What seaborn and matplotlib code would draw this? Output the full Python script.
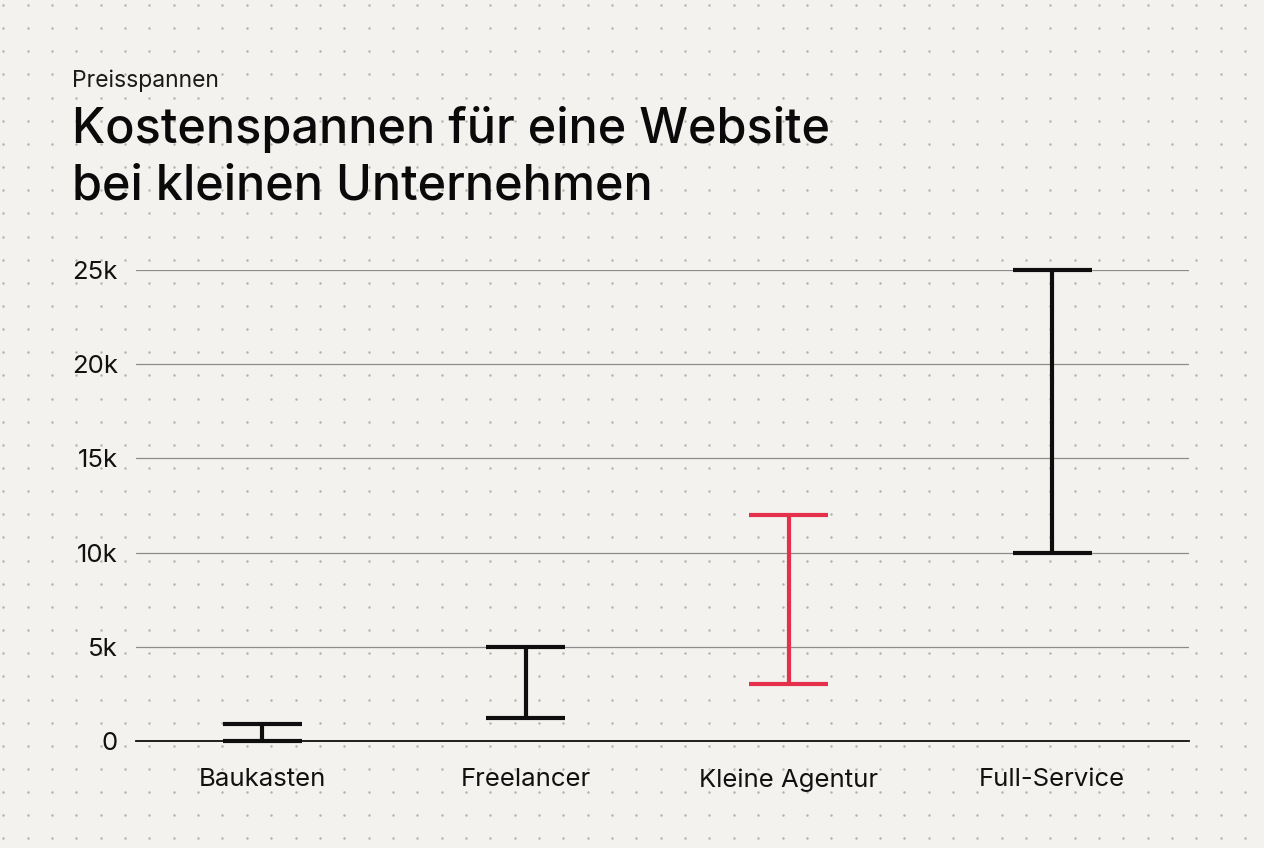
import numpy as np
import pandas as pd
import matplotlib
matplotlib.use("Agg")
import matplotlib.pyplot as plt
import seaborn as sns

# ---- data ----
categories = ["Baukasten", "Freelancer", "Kleine Agentur", "Full-Service"]
low_values = [0, 1200, 3000, 10000]
high_values = [900, 5000, 12000, 25000]
y_ticks = [0, 5000, 10000, 15000, 20000, 25000]
y_tick_labels = ["0", "5k", "10k", "15k", "20k", "25k"]
subtitle = "Preisspannen"
title_lines = ["Kostenspannen für eine Website", "bei kleinen Unternehmen"]

BG = "#f3f2ee"
BLACK = "#0e0e0e"
RED = "#e5304b"
colors = [BLACK, BLACK, RED, BLACK]

rows = []
for c, lo, hi in zip(categories, low_values, high_values):
    rows.append({"Kategorie": c, "Kosten": lo})
    rows.append({"Kategorie": c, "Kosten": hi})
df = pd.DataFrame(rows)

sns.set_theme(style="white")
plt.rcParams["font.family"] = ["Inter", "DejaVu Sans"]

W, H = 1264, 848
fig = plt.figure(figsize=(W / 100, H / 100), dpi=100)
fig.patch.set_facecolor(BG)

# dotted background
bg = fig.add_axes([0, 0, 1, 1], zorder=0)
bg.set_xlim(0, W)
bg.set_ylim(H, 0)
bg.axis("off")
xs = np.arange(3.3, W, 24.35)
ys = np.arange(5, H, 23.15)
gx, gy = np.meshgrid(xs, ys)
bg.scatter(gx.ravel(), gy.ravel(), s=3.2, color="#b4b4ae", linewidths=0)

ax = fig.add_axes([136 / W, 1 - 741 / H, (1189 - 136) / W, (741 - 270) / H], zorder=1)
ax.set_facecolor("none")

sns.pointplot(
    data=df, x="Kategorie", y="Kosten", hue="Kategorie",
    order=categories, hue_order=categories, palette=colors,
    errorbar=lambda v: (v.min(), v.max()), capsize=0.3,
    err_kws={"linewidth": 3.0, "solid_capstyle": "butt"},
    marker="", linestyle="none", legend=False, ax=ax,
)
for ln in ax.lines:
    ln.set_clip_on(False)
    ln.set_zorder(3)

ax.set_xlim(-0.48, 3.52)
ax.set_ylim(0, 25000)
ax.set_yticks(y_ticks)
ax.set_yticklabels(y_tick_labels)
ax.yaxis.grid(True, color="#8c8c8c", linewidth=0.9)
ax.xaxis.grid(False)
ax.set_axisbelow(True)
for s in ["top", "right", "left"]:
    ax.spines[s].set_visible(False)
ax.spines["bottom"].set_color(BLACK)
ax.spines["bottom"].set_linewidth(1.3)
ax.tick_params(axis="both", length=0, labelsize=18.5, colors="#111111")
ax.tick_params(axis="y", pad=13)
ax.tick_params(axis="x", pad=19.5)
ax.set_xlabel("")
ax.set_ylabel("")

fig.text(72 / W, 1 - 86.5 / H, subtitle, fontsize=16.5, color="#1a1a1a",
         ha="left", va="baseline")
fig.text(72 / W, 1 - 143 / H, title_lines[0], fontsize=35, color="#0a0a0a",
         ha="left", va="baseline", fontweight="medium")
fig.text(72 / W, 1 - 200 / H, title_lines[1], fontsize=35, color="#0a0a0a",
         ha="left", va="baseline", fontweight="medium")

fig.savefig("out.png", dpi=100, facecolor=BG)
